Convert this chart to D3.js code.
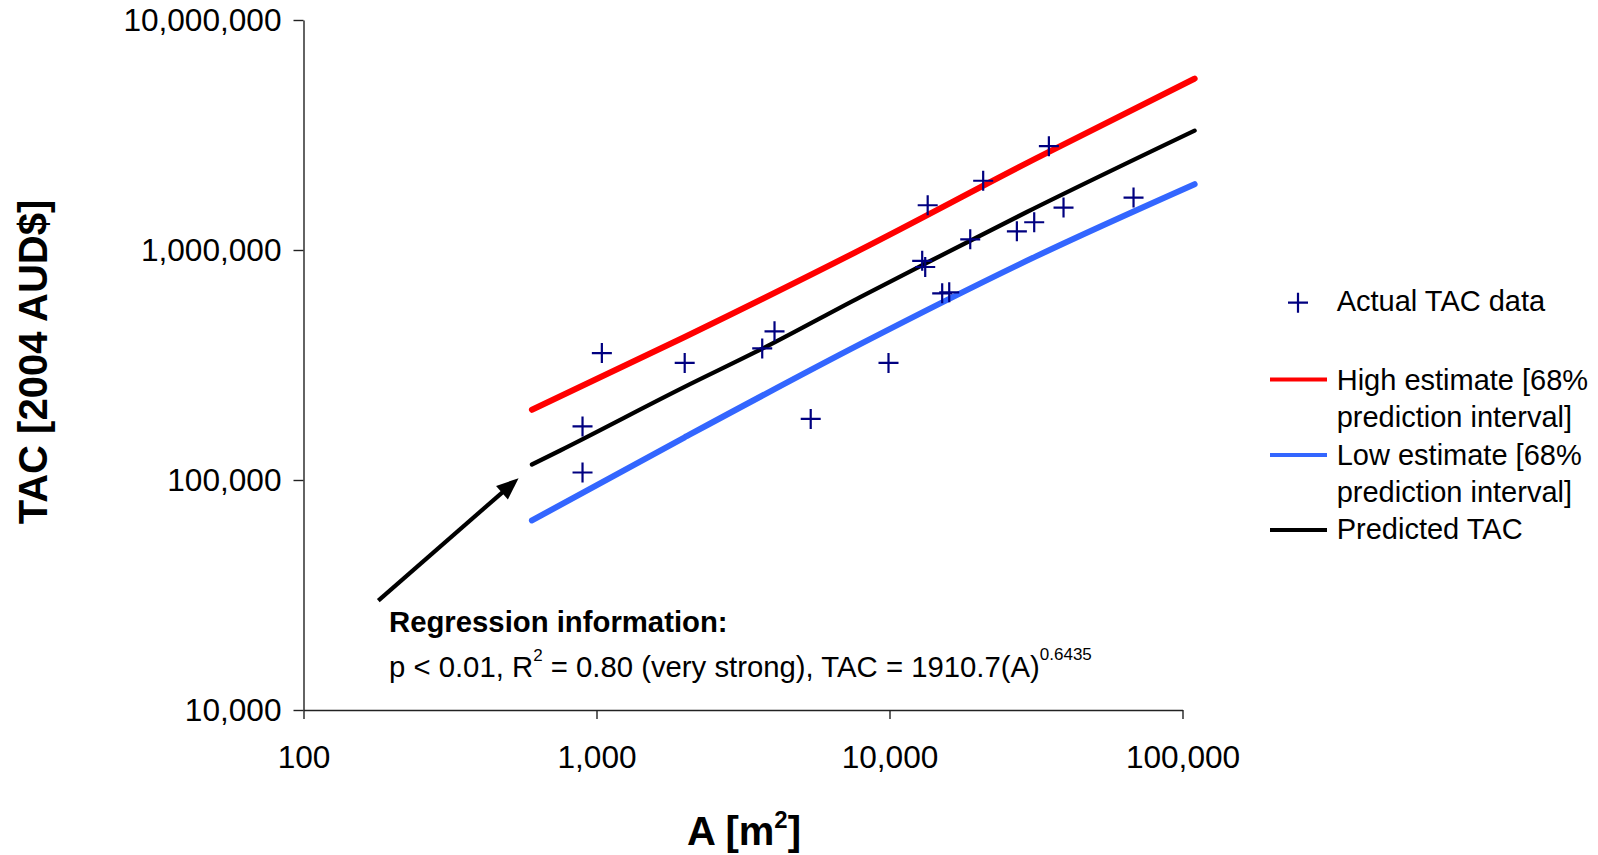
<!DOCTYPE html>
<html>
<head>
<meta charset="utf-8">
<script src="https://cdn.jsdelivr.net/npm/d3@7"></script>
<style>
  html, body { margin: 0; padding: 0; background: #fff; }
  svg { display: block; font-family: Arial, "Liberation Sans", sans-serif; }
</style>
</head>
<body>
<svg id="chart" width="1598" height="855"></svg>
<script>
// ---------- data ----------
const xTicks = [100, 1000, 10000, 100000];
const yTicks = [10000, 100000, 1000000, 10000000];

// Actual TAC data: area A [m2] and TAC [2004 AUD$]
const actualA   = [896, 896, 1043, 2000, 3678, 4051, 5384, 9922, 12930, 13240, 13500, 15130, 15990, 18860, 20880, 27210, 31180, 34990, 39260, 68060];
const actualTAC = [107800, 171000, 356300, 322900, 373400, 443000, 184300, 322900, 897500, 843500, 1565000, 648000, 654600, 1113000, 2000000, 1206000, 1320000, 2827000, 1529000, 1690000];

// Predicted TAC line
const predA   = [602, 752, 1990, 3678, 7943, 12900, 29430, 110000];
const predTAC = [116800, 134400, 253400, 372300, 624400, 857800, 1463000, 3304000];

// High estimate [68% prediction interval]
const highA   = [602, 2000, 7943, 31620, 110000];
const highTAC = [202000, 418700, 1001000, 2502000, 5560000];

// Low estimate [68% prediction interval]
const lowA   = [602, 2000, 7943, 31620, 110000];
const lowTAC = [66700, 153400, 389600, 938200, 1932000];

// Arrow annotation (data coordinates: tail, tip)
const arrowA   = [180, 542];
const arrowTAC = [29900, 101800];

const legendLabels = [
  ["Actual TAC data"],
  ["High estimate [68%", "prediction interval]"],
  ["Low estimate [68%", "prediction interval]"],
  ["Predicted TAC"]
];

// ---------- chart ----------
const svg = d3.select("#chart");
const x = d3.scaleLog().domain([100, 100000]).range([303.5, 1182.5]);
const y = d3.scaleLog().domain([10000, 10000000]).range([710, 20]);
const fmt = d3.format(",");

const colors = { actual: "#000080", high: "#FF0000", low: "#3366FF", pred: "#000000" };

// axes
const gy = svg.append("g").attr("transform", "translate(303.5,0)")
  .call(d3.axisLeft(y).tickValues(yTicks).tickFormat(fmt).tickSize(10).tickSizeOuter(0).tickPadding(12));
const gx = svg.append("g").attr("transform", "translate(0,710)")
  .call(d3.axisBottom(x).tickValues(xTicks).tickFormat(fmt).tickSize(9).tickSizeOuter(0));
[gx, gy].forEach(g => {
  g.select(".domain").attr("stroke", "#222").attr("stroke-width", 1.4);
  g.selectAll(".tick line").attr("stroke", "#222").attr("stroke-width", 1.4);
  g.selectAll(".tick text").attr("font-size", 31.6).attr("fill", "#000")
    .attr("font-family", "Arial, 'Liberation Sans', sans-serif");
});
gx.selectAll(".tick text").attr("y", 58).attr("dy", null);

// axis titles
svg.append("text")
  .attr("transform", "translate(47,362) rotate(-90)")
  .attr("text-anchor", "middle")
  .attr("font-size", 40).attr("font-weight", "bold")
  .text("TAC [2004 AUD$]");

const xt = svg.append("text")
  .attr("x", 744).attr("y", 845)
  .attr("text-anchor", "middle")
  .attr("font-size", 40).attr("font-weight", "bold");
xt.append("tspan").text("A [m");
xt.append("tspan").attr("font-size", 24).attr("dy", -17).text("2");
xt.append("tspan").attr("dy", 17).text("]");

// lines
const line = d3.line().x(d => x(d[0])).y(d => y(d[1])).curve(d3.curveMonotoneX);
const series = [
  { a: highA, t: highTAC, c: colors.high, w: 6 },
  { a: lowA,  t: lowTAC,  c: colors.low,  w: 6 },
  { a: predA, t: predTAC, c: colors.pred, w: 4.3 }
];
series.forEach(s => {
  svg.append("path")
    .datum(s.a.map((v, i) => [v, s.t[i]]))
    .attr("d", line)
    .attr("fill", "none")
    .attr("stroke", s.c)
    .attr("stroke-width", s.w)
    .attr("stroke-linecap", "round")
    .attr("stroke-linejoin", "round");
});

// actual data crosses
const arm = 10;
svg.append("g").selectAll("path")
  .data(actualA.map((v, i) => [v, actualTAC[i]]))
  .join("path")
  .attr("d", d => {
    const px = x(d[0]), py = y(d[1]);
    return `M${px - arm},${py}H${px + arm}M${px},${py - arm}V${py + arm}`;
  })
  .attr("stroke", colors.actual)
  .attr("stroke-width", 2.2)
  .attr("fill", "none");

// arrow
{
  const x1 = x(arrowA[0]), y1 = y(arrowTAC[0]);
  const x2 = x(arrowA[1]), y2 = y(arrowTAC[1]);
  const dx = x2 - x1, dy = y2 - y1, len = Math.hypot(dx, dy);
  const ux = dx / len, uy = dy / len;
  const headL = 22, headW = 9;
  svg.append("line")
    .attr("x1", x1).attr("y1", y1)
    .attr("x2", x2 - ux * (headL - 4)).attr("y2", y2 - uy * (headL - 4))
    .attr("stroke", "#000").attr("stroke-width", 4.2);
  const bx = x2 - ux * headL, by = y2 - uy * headL;
  svg.append("path")
    .attr("d", `M${x2},${y2}L${bx - uy * headW},${by + ux * headW}L${bx + uy * headW},${by - ux * headW}Z`)
    .attr("fill", "#000");
}

// regression information
svg.append("text")
  .attr("x", 389).attr("y", 632)
  .attr("font-size", 29.3).attr("font-weight", "bold")
  .text("Regression information:");
const rt = svg.append("text").attr("x", 389).attr("y", 677).attr("font-size", 29.3);
rt.append("tspan").text("p < 0.01, R");
rt.append("tspan").attr("font-size", 17).attr("dy", -16).text("2");
rt.append("tspan").attr("dy", 16).text(" = 0.80 (very strong), TAC = 1910.7(A)");
rt.append("tspan").attr("font-size", 17).attr("dy", -17).text("0.6435");

// legend
const lg = svg.append("g");
lg.append("path")
  .attr("d", `M${1298 - arm},302.7H${1298 + arm}M1298,${302.7 - arm}V${302.7 + arm}`)
  .attr("stroke", colors.actual).attr("stroke-width", 2.2);
const legendRows = [
  { y: 311, lines: legendLabels[0] },
  { y: 389.5, lines: legendLabels[1], c: colors.high, ly: 379.5 },
  { y: 464.5, lines: legendLabels[2], c: colors.low, ly: 455 },
  { y: 539, lines: legendLabels[3], c: colors.pred, ly: 530 }
];
legendRows.forEach(r => {
  if (r.c) {
    lg.append("line").attr("x1", 1270).attr("x2", 1327).attr("y1", r.ly).attr("y2", r.ly)
      .attr("stroke", r.c).attr("stroke-width", 4);
  }
  r.lines.forEach((t, i) => {
    lg.append("text").attr("x", 1336.7).attr("y", r.y + i * 37.5)
      .attr("font-size", 29).text(t);
  });
});
</script>
</body>
</html>
